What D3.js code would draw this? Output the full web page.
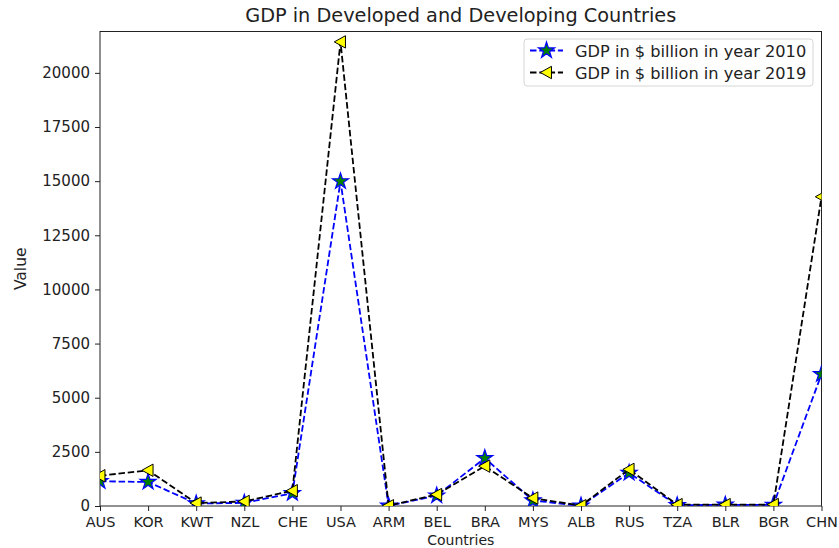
<!DOCTYPE html>
<html>
<head>
<meta charset="utf-8">
<script src="https://cdn.jsdelivr.net/npm/d3@7"></script>
<style>
  body { margin: 0; background: #fff; }
  svg text { font-family: "DejaVu Sans", sans-serif; fill: #222; }
</style>
</head>
<body>
<script>
// chart data
const countries = ["AUS", "KOR", "KWT", "NZL", "CHE", "USA", "ARM", "BEL", "BRA", "MYS", "ALB", "RUS", "TZA", "BLR", "BGR", "CHN"];
const gdp2010 = [1140, 1110, 115, 145, 590, 14990, 9, 480, 2210, 255, 12, 1525, 32, 57, 50, 6087];
const gdp2019 = [1395, 1650, 135, 210, 705, 21430, 13, 530, 1840, 365, 15, 1690, 63, 63, 68, 14280];
const yTicks = [0, 2500, 5000, 7500, 10000, 12500, 15000, 17500, 20000];

const W = 839, H = 548;
const margin = {top: 31.5, right: 17.5, bottom: 42, left: 100};
const width = W - margin.left - margin.right;
const height = H - margin.top - margin.bottom;

const svg = d3.select("body").append("svg")
    .attr("width", W)
    .attr("height", H);

const g = svg.append("g")
    .attr("transform", "translate(" + margin.left + "," + margin.top + ")");

// scales
const x = d3.scaleLinear().domain([0, countries.length - 1]).range([0, width]);
const y = d3.scaleLinear().domain([0, 21910]).range([height, 0]);

// clip to axes area, like matplotlib
svg.append("defs").append("clipPath").attr("id", "plotclip")
    .append("rect").attr("width", width).attr("height", height);

// axes
const xAxis = g.append("g")
    .attr("transform", "translate(0," + height + ")")
    .call(d3.axisBottom(x).tickValues(d3.range(countries.length))
        .tickFormat(i => countries[i]).tickSize(5).tickPadding(6));
const yAxis = g.append("g")
    .call(d3.axisLeft(y).tickValues(yTicks).tickFormat(d3.format("d"))
        .tickSize(5).tickPadding(5));
[xAxis, yAxis].forEach((a, k) => {
    a.select(".domain").remove();
    a.selectAll("line").attr("stroke", "#222").attr("stroke-width", 1);
    a.selectAll("text").attr("font-size", k === 0 ? 14.5 : 15).attr("fill", "#222")
        .style("font-family", "'DejaVu Sans', sans-serif");
});

// frame
g.append("rect")
    .attr("width", width).attr("height", height)
    .attr("fill", "none").attr("stroke", "#222").attr("stroke-width", 1);

const plot = g.append("g").attr("clip-path", "url(#plotclip)");

const series = [
    {name: "GDP in $ billion in year 2010", values: gdp2010, color: "blue", fill: "green", edge: "blue", marker: "star"},
    {name: "GDP in $ billion in year 2019", values: gdp2019, color: "black", fill: "yellow", edge: "black", marker: "tri"}
];

const star = d3.symbol().type(d3.symbolStar).size(80);
const triPath = s => "M" + (-s) + ",0L" + (s * 0.8) + "," + (-s) + "L" + (s * 0.8) + "," + s + "Z";

function drawMarker(sel, s) {
    if (s.marker === "star") {
        sel.append("path").attr("d", star())
            .attr("fill", s.fill).attr("stroke", s.edge).attr("stroke-width", 1.2);
    } else {
        sel.append("path").attr("d", triPath(6.2))
            .attr("fill", s.fill).attr("stroke", s.edge).attr("stroke-width", 1);
    }
}

series.forEach(s => {
    plot.append("path")
        .datum(s.values)
        .attr("fill", "none")
        .attr("stroke", s.color)
        .attr("stroke-width", 1.8)
        .attr("stroke-dasharray", "6.5,2.8")
        .attr("d", d3.line().x((d, i) => x(i)).y(d => y(d)));
    plot.selectAll(null)
        .data(s.values)
        .enter().append("g")
        .attr("transform", (d, i) => "translate(" + x(i) + "," + y(d) + ")")
        .each(function () { drawMarker(d3.select(this), s); });
});

// title and labels
svg.append("text")
    .attr("x", margin.left + width / 2).attr("y", 22)
    .attr("text-anchor", "middle").attr("font-size", 19.3)
    .text("GDP in Developed and Developing Countries");
svg.append("text")
    .attr("x", margin.left + width / 2).attr("y", 544.5)
    .attr("text-anchor", "middle").attr("font-size", 14)
    .text("Countries");
svg.append("text")
    .attr("transform", "translate(26," + (margin.top + height / 2) + ") rotate(-90)")
    .attr("text-anchor", "middle").attr("font-size", 15.5)
    .text("Value");

// legend
const lx = 524, ly = 39, lw = 289, lh = 47;
const legend = svg.append("g");
legend.append("rect")
    .attr("x", lx).attr("y", ly).attr("width", lw).attr("height", lh)
    .attr("rx", 3).attr("fill", "#fff").attr("fill-opacity", 0.8)
    .attr("stroke", "#d6d6d6").attr("stroke-width", 1);
series.forEach((s, i) => {
    const cy = ly + 11.5 + i * 22;
    legend.append("line")
        .attr("x1", lx + 6).attr("x2", lx + 39).attr("y1", cy).attr("y2", cy)
        .attr("stroke", s.color).attr("stroke-width", 1.8)
        .attr("stroke-dasharray", "6.5,2.8");
    const m = legend.append("g").attr("transform", "translate(" + (lx + 22.5) + "," + cy + ")");
    drawMarker(m, s);
    legend.append("text")
        .attr("x", lx + 51).attr("y", cy + 6)
        .attr("font-size", 16.2)
        .text(s.name);
});
</script>
</body>
</html>
